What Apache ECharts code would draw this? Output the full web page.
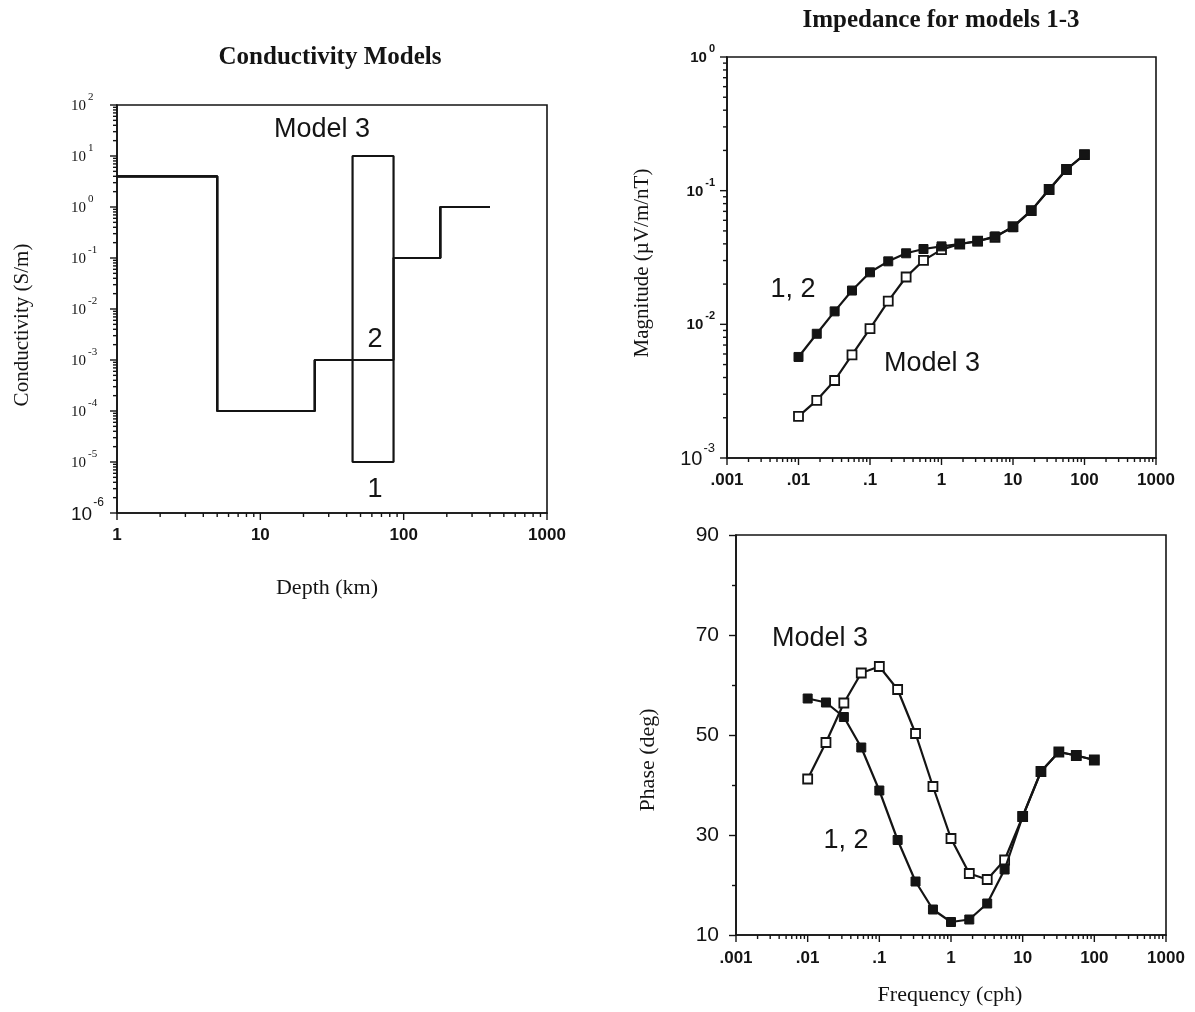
<!DOCTYPE html>
<html>
<head>
<meta charset="utf-8">
<script src="https://cdn.jsdelivr.net/npm/echarts@6/dist/echarts.min.js"></script>
<style>
  html, body { margin: 0; padding: 0; background: #fff; }
  #main { width: 1195px; height: 1012px; }
</style>
</head>
<body>
<div id="main"></div>
<script>
// Conductivity models: layer boundaries (km) and conductivity of each layer (S/m).
// The three models differ only in the layer between 44 and 85 km.
const depthBounds = [1, 5, 24, 44, 85, 180, 400];
const sigmaModel1 = [4, 1e-4, 1e-3, 1e-5, 0.1, 1];
const sigmaModel2 = [4, 1e-4, 1e-3, 1e-3, 0.1, 1];
const sigmaModel3 = [4, 1e-4, 1e-3, 10, 0.1, 1];

// Impedance response at each frequency (cph)
const freqs = [0.01, 0.018, 0.032, 0.056, 0.1, 0.18, 0.32, 0.56, 1, 1.8, 3.2, 5.6, 10, 18, 32, 56, 100];
const magModels12 = [0.0057, 0.0085, 0.0125, 0.0179, 0.0245, 0.0296, 0.034, 0.0366, 0.0383, 0.0399, 0.0418, 0.0455, 0.0532, 0.0709, 0.102, 0.144, 0.186];
const magModel3 = [0.00205, 0.0027, 0.0038, 0.0059, 0.0093, 0.0149, 0.0226, 0.0301, 0.0362, 0.0399, 0.042, 0.0448, 0.0538, 0.0709, 0.102, 0.144, 0.186];
const phaseModels12 = [57.3, 56.5, 53.6, 47.5, 38.9, 29.0, 20.7, 15.1, 12.6, 13.1, 16.3, 23.1, 33.7, 42.7, 46.6, 45.9, 45.0];
const phaseModel3 = [41.2, 48.5, 56.4, 62.4, 63.7, 59.1, 50.3, 39.7, 29.3, 22.3, 21.1, 25.0, 33.7, 42.7, 46.6, 45.9, 45.0];

// Axis ranges
const depthRange = [1, 1000];
const sigmaRange = [1e-6, 1e2];
const freqRange = [0.001, 1000];
const magRange = [0.001, 1];
const phaseRange = [10, 90];
const phaseStep = 20;

const INK = '#141414';
const SANS = '"Liberation Sans", Arial, sans-serif';
const SERIF = '"Liberation Serif", "Times New Roman", serif';

// Step profile: each layer holds its value from its top to the next boundary
function stepProfile(sigma) {
  const pts = sigma.map((s, i) => [depthBounds[i], s]);
  pts.push([depthBounds[depthBounds.length - 1], sigma[sigma.length - 1]]);
  return pts;
}
const zip = (xs, ys) => xs.map((x, i) => [x, ys[i]]);

// Values 1..9 x 10^e across a log range, used for major and minor tick marks
function logTickValues(lo, hi) {
  const out = [];
  const e0 = Math.round(Math.log10(lo)), e1 = Math.round(Math.log10(hi));
  for (let e = e0; e < e1; e++) {
    for (let m = 1; m < 10; m++) out.push({ v: m * Math.pow(10, e), major: m === 1 });
  }
  out.push({ v: Math.pow(10, e1), major: true });
  return out;
}

// Tick marks drawn outside an axis through the grid's own scales
function tickSeries(gridIndex, dir, range, fixedValue, majorLen, minorLen) {
  const ticks = logTickValues(range[0], range[1]);
  return {
    type: 'custom',
    xAxisIndex: gridIndex,
    yAxisIndex: gridIndex,
    silent: true,
    clip: false,
    z: 6,
    data: ticks.map(t => dir === 'x' ? [t.v, fixedValue, t.major ? 1 : 0] : [fixedValue, t.v, t.major ? 1 : 0]),
    renderItem(params, api) {
      const p = api.coord([api.value(0), api.value(1)]);
      const L = api.value(2) ? majorLen : minorLen;
      const shape = dir === 'x'
        ? { x1: p[0], y1: p[1], x2: p[0], y2: p[1] + L }
        : { x1: p[0] - L, y1: p[1], x2: p[0], y2: p[1] };
      return { type: 'line', shape, style: { stroke: INK, lineWidth: 1.4 } };
    }
  };
}

function freqLabel(v) {
  return Number(v.toPrecision(3)).toString().replace(/^0\./, '.');
}
function powLabel(v, idx) {
  const e = Math.round(Math.log10(v));
  return idx === 0 ? `{B|10}{S|${e}}` : `{b|10}{s|${e}}`;
}

const gridBase = {
  show: true, borderColor: INK, borderWidth: 1.6, backgroundColor: 'transparent',
  containLabel: false, outerBoundsMode: 'none'
};

function logAxis(gridIndex, range, label) {
  return {
    type: 'log', logBase: 10, gridIndex, min: range[0], max: range[1],
    axisLine: { show: true, onZero: false, lineStyle: { color: INK, width: 1.6 } },
    axisTick: { show: false },
    minorTick: { show: false },
    splitLine: { show: false },
    minorSplitLine: { show: false },
    axisLabel: Object.assign({ color: INK, showMinLabel: true, showMaxLabel: true, hideOverlap: false }, label)
  };
}

const xTickLabel = { fontFamily: SANS, fontWeight: 'bold', fontSize: 17, margin: 14 };

// Power-of-ten labels: the base sits low in a tall line, the exponent at its top
function powRich(family, weight, baseSize, supSize, bigBase, bigSup) {
  return {
    b: { fontFamily: family, fontWeight: weight, fontSize: baseSize, color: INK, lineHeight: baseSize + 7, verticalAlign: 'bottom' },
    s: { fontFamily: family, fontWeight: weight, fontSize: supSize, color: INK, verticalAlign: 'top', padding: [0, 0, 0, 2] },
    B: { fontFamily: SANS, fontSize: bigBase, color: INK, lineHeight: bigBase + 8, verticalAlign: 'bottom' },
    S: { fontFamily: SANS, fontSize: bigSup, color: INK, verticalAlign: 'top', padding: [0, 0, 0, 1] }
  };
}

const serifPow = {
  align: 'left', margin: 46, padding: [0, 0, 5, 0], formatter: powLabel,
  rich: powRich(SERIF, 'normal', 15, 11, 19, 12)
};
const sansPow = {
  margin: 12, padding: [0, 0, 5, 0], formatter: powLabel,
  rich: powRich(SANS, 'bold', 15, 11, 20, 13)
};

const lineStyle = { color: INK, width: 2.2 };
const filledSquare = { symbol: 'rect', symbolSize: 9, itemStyle: { color: INK, borderColor: INK, borderWidth: 1 } };
const openSquare = { symbol: 'rect', symbolSize: 9, itemStyle: { color: '#fff', borderColor: INK, borderWidth: 1.8 } };

function text(x, y, str, font, rotate) {
  return {
    type: 'text', x, y, rotation: rotate ? Math.PI / 2 : 0, silent: true,
    style: { text: str, font, fill: INK, align: 'center', verticalAlign: 'middle' }
  };
}

const option = {
  animation: false,
  backgroundColor: '#fff',
  grid: [
    Object.assign({ left: 117, top: 105, width: 430, height: 408 }, gridBase),
    Object.assign({ left: 727, top: 57, width: 429, height: 401 }, gridBase),
    Object.assign({ left: 736, top: 535, width: 430, height: 400 }, gridBase)
  ],
  xAxis: [
    logAxis(0, depthRange, Object.assign({ formatter: v => String(Math.round(v)) }, xTickLabel)),
    logAxis(1, freqRange, Object.assign({ formatter: freqLabel }, xTickLabel)),
    logAxis(2, freqRange, Object.assign({ formatter: freqLabel }, xTickLabel, { margin: 15 }))
  ],
  yAxis: [
    logAxis(0, sigmaRange, serifPow),
    logAxis(1, magRange, sansPow),
    {
      type: 'value', gridIndex: 2, min: phaseRange[0], max: phaseRange[1], interval: phaseStep,
      axisLine: { show: true, onZero: false, lineStyle: { color: INK, width: 1.6 } },
      axisTick: { show: true, length: 7, lineStyle: { color: INK, width: 1.4 } },
      minorTick: { show: true, splitNumber: 2, length: 4, lineStyle: { color: INK, width: 1.4 } },
      splitLine: { show: false },
      axisLabel: { color: INK, fontFamily: SANS, fontSize: 21, margin: 17 }
    }
  ],
  series: [
    // conductivity models
    { type: 'line', xAxisIndex: 0, yAxisIndex: 0, step: 'end', showSymbol: false, lineStyle, data: stepProfile(sigmaModel1) },
    { type: 'line', xAxisIndex: 0, yAxisIndex: 0, step: 'end', showSymbol: false, lineStyle, data: stepProfile(sigmaModel2) },
    { type: 'line', xAxisIndex: 0, yAxisIndex: 0, step: 'end', showSymbol: false, lineStyle, data: stepProfile(sigmaModel3) },
    // impedance magnitude
    Object.assign({ type: 'line', xAxisIndex: 1, yAxisIndex: 1, lineStyle, z: 3, data: zip(freqs, magModel3) }, openSquare),
    Object.assign({ type: 'line', xAxisIndex: 1, yAxisIndex: 1, lineStyle, z: 4, data: zip(freqs, magModels12) }, filledSquare),
    // impedance phase
    Object.assign({ type: 'line', xAxisIndex: 2, yAxisIndex: 2, lineStyle, z: 3, data: zip(freqs, phaseModel3) }, openSquare),
    Object.assign({ type: 'line', xAxisIndex: 2, yAxisIndex: 2, lineStyle, z: 4, data: zip(freqs, phaseModels12) }, filledSquare),
    // log tick marks
    tickSeries(0, 'x', depthRange, sigmaRange[0], 7, 4),
    tickSeries(0, 'y', sigmaRange, depthRange[0], 7, 4),
    tickSeries(1, 'x', freqRange, magRange[0], 7, 4),
    tickSeries(1, 'y', magRange, freqRange[0], 7, 4),
    tickSeries(2, 'x', freqRange, phaseRange[0], 7, 4)
  ],
  graphic: [
    text(330, 58, 'Conductivity Models', `bold 25px ${SERIF}`),
    text(941, 21, 'Impedance for models 1-3', `bold 25px ${SERIF}`),
    text(327, 588, 'Depth (km)', `22px ${SERIF}`),
    text(950, 995, 'Frequency (cph)', `22px ${SERIF}`),
    text(22, 325, 'Conductivity (S/m)', `21px ${SERIF}`, true),
    text(642, 263, 'Magnitude (\u00b5V/m/nT)', `21px ${SERIF}`, true),
    text(648, 760, 'Phase (deg)', `22px ${SERIF}`, true),
    text(322, 130, 'Model 3', `27px ${SANS}`),
    text(375, 340, '2', `27px ${SANS}`),
    text(375, 490, '1', `27px ${SANS}`),
    text(793, 290, '1, 2', `27px ${SANS}`),
    text(932, 364, 'Model 3', `27px ${SANS}`),
    text(820, 639, 'Model 3', `27px ${SANS}`),
    text(846, 841, '1, 2', `27px ${SANS}`)
  ]
};

const chart = echarts.init(document.getElementById('main'), null, { renderer: 'canvas' });
chart.setOption(option);
</script>
</body>
</html>
